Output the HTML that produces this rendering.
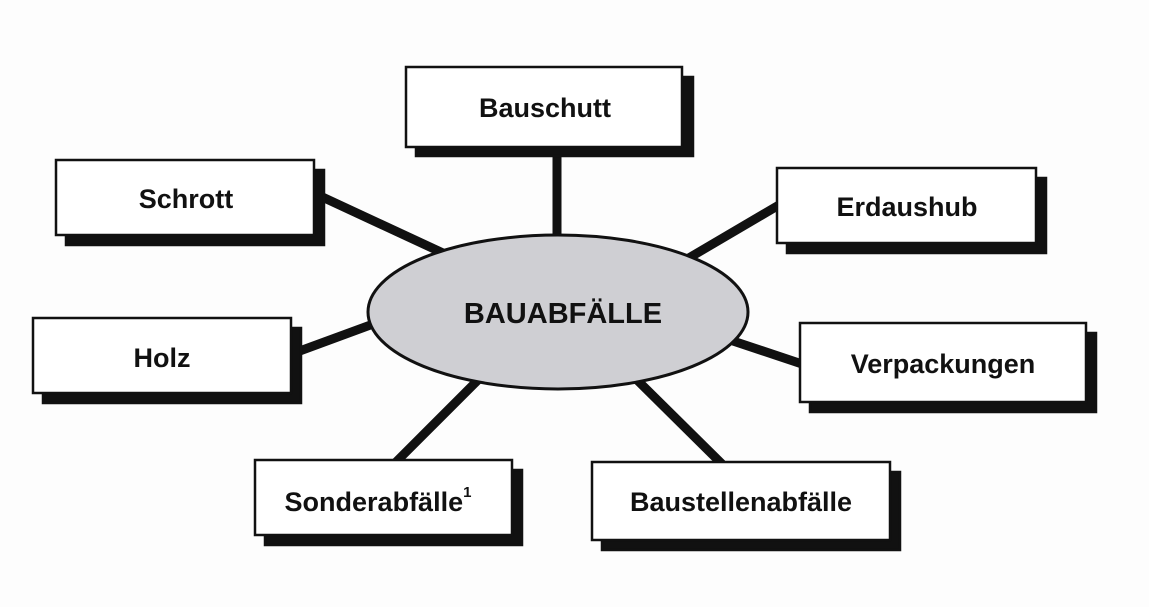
<!DOCTYPE html>
<html><head><meta charset="utf-8"><style>
html,body{margin:0;padding:0;background:#fff;}
svg{display:block}
text{font-family:"Liberation Sans",Arial,sans-serif;font-weight:bold;fill:#111;}
</style></head><body>
<svg width="1149" height="607" viewBox="0 0 1149 607" xmlns="http://www.w3.org/2000/svg">
<rect width="1149" height="607" fill="#fdfdfd"/>
<g stroke="#111" stroke-width="9" stroke-linecap="butt">
<line x1="557" y1="150" x2="557" y2="240"/>
<line x1="318" y1="195" x2="445" y2="254"/>
<line x1="779" y1="205" x2="682" y2="262"/>
<line x1="297" y1="352" x2="384" y2="320"/>
<line x1="733" y1="341" x2="802" y2="364"/>
<line x1="396" y1="462" x2="485" y2="373"/>
<line x1="722" y1="464" x2="630" y2="373"/>
</g>
<ellipse cx="558" cy="312" rx="190" ry="77" fill="#cfcfd3" stroke="#111" stroke-width="3"/>
<text x="563" y="323" font-size="29" text-anchor="middle">BAUABFÄLLE</text>
<g stroke="#111" stroke-width="2.5" fill="#fff">
<rect x="416" y="77" width="277" height="79" fill="#111"/><rect x="406" y="67" width="276" height="80"/>
<rect x="66" y="170" width="258" height="75" fill="#111"/><rect x="56" y="160" width="258" height="75"/>
<rect x="787" y="178" width="259" height="75" fill="#111"/><rect x="777" y="168" width="259" height="75"/>
<rect x="43" y="328" width="258" height="75" fill="#111"/><rect x="33" y="318" width="258" height="75"/>
<rect x="810" y="333" width="286" height="79" fill="#111"/><rect x="800" y="323" width="286" height="79"/>
<rect x="265" y="470" width="257" height="75" fill="#111"/><rect x="255" y="460" width="257" height="75"/>
<rect x="602" y="472" width="298" height="78" fill="#111"/><rect x="592" y="462" width="298" height="78"/>
</g>
<g font-size="27" text-anchor="middle">
<text x="545" y="117">Bauschutt</text>
<text x="186" y="208">Schrott</text>
<text x="907" y="216">Erdaushub</text>
<text x="162" y="367">Holz</text>
<text x="943" y="373">Verpackungen</text>
<text x="378" y="511">Sonderabfälle<tspan font-size="15" dy="-14">1</tspan></text>
<text x="741" y="511">Baustellenabfälle</text>
</g>
</svg>
</body></html>
